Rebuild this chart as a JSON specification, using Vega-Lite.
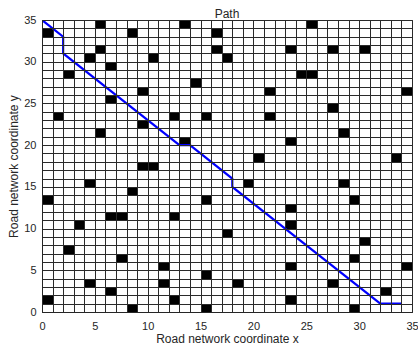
{
  "$schema": "https://vega.github.io/schema/vega-lite/v6.json",
  "width": 370,
  "height": 292,
  "autosize": "none",
  "padding": {"left": 42, "top": 20, "right": 6, "bottom": 40},
  "background": "white",
  "config": {
    "font": "Liberation Sans",
    "view": {"stroke": "#262626", "strokeWidth": 1},
    "axis": {
      "grid": true,
      "gridColor": "#2a2a2a",
      "gridWidth": 1,
      "gridOpacity": 1,
      "ticks": false,
      "domainColor": "#262626",
      "labelColor": "#262626",
      "labelFontSize": 11,
      "labelFlush": false,
      "labelOverlap": false,
      "titleColor": "#262626",
      "titleFontSize": 12,
      "titleFontWeight": "normal"
    }
  },
  "title": {
    "text": "Path",
    "fontSize": 12,
    "fontWeight": "normal",
    "color": "#262626",
    "offset": -7
  },
  "layer": [
    {
      "data": {
        "name": "obstacles",
        "values": [
          {"x": 0, "y": 33}, {"x": 5, "y": 34}, {"x": 13, "y": 34}, {"x": 8, "y": 33},
          {"x": 16, "y": 33}, {"x": 5, "y": 31}, {"x": 16, "y": 31}, {"x": 4, "y": 30},
          {"x": 10, "y": 30}, {"x": 6, "y": 29}, {"x": 2, "y": 28}, {"x": 14, "y": 27},
          {"x": 9, "y": 26}, {"x": 6, "y": 25}, {"x": 1, "y": 23}, {"x": 12, "y": 23},
          {"x": 15, "y": 23}, {"x": 9, "y": 22}, {"x": 5, "y": 21}, {"x": 13, "y": 20},
          {"x": 9, "y": 17}, {"x": 10, "y": 17},
          {"x": 25, "y": 34}, {"x": 23, "y": 31}, {"x": 27, "y": 31}, {"x": 30, "y": 31},
          {"x": 17, "y": 30}, {"x": 24, "y": 28}, {"x": 25, "y": 28}, {"x": 21, "y": 26},
          {"x": 34, "y": 26}, {"x": 27, "y": 24}, {"x": 21, "y": 23}, {"x": 28, "y": 21},
          {"x": 23, "y": 20}, {"x": 20, "y": 18}, {"x": 33, "y": 18},
          {"x": 4, "y": 15}, {"x": 8, "y": 14}, {"x": 0, "y": 13}, {"x": 15, "y": 13},
          {"x": 6, "y": 11}, {"x": 7, "y": 11}, {"x": 12, "y": 11}, {"x": 3, "y": 10},
          {"x": 2, "y": 7}, {"x": 7, "y": 6}, {"x": 11, "y": 5}, {"x": 15, "y": 4},
          {"x": 4, "y": 3}, {"x": 11, "y": 3}, {"x": 6, "y": 2}, {"x": 0, "y": 1},
          {"x": 12, "y": 1}, {"x": 8, "y": 0}, {"x": 15, "y": 0},
          {"x": 19, "y": 15}, {"x": 28, "y": 15}, {"x": 29, "y": 13}, {"x": 23, "y": 12},
          {"x": 23, "y": 10}, {"x": 17, "y": 9}, {"x": 30, "y": 8}, {"x": 29, "y": 6},
          {"x": 23, "y": 5}, {"x": 34, "y": 5}, {"x": 18, "y": 3}, {"x": 27, "y": 3},
          {"x": 32, "y": 2}, {"x": 23, "y": 1}, {"x": 29, "y": 0}
        ]
      },
      "mark": {"type": "rect", "color": "black"},
      "encoding": {
        "x": {
          "field": "x",
          "type": "quantitative",
          "bin": {"binned": true, "step": 1},
          "scale": {"domain": [0, 35], "nice": false, "zero": false},
          "axis": {
            "title": "Road network coordinate x",
            "values": [0,1,2,3,4,5,6,7,8,9,10,11,12,13,14,15,16,17,18,19,20,21,22,23,24,25,26,27,28,29,30,31,32,33,34,35],
            "labelExpr": "datum.value % 5 === 0 ? datum.label : ''",
            "labelPadding": 8,
            "titlePadding": 2
          }
        },
        "y": {
          "field": "y",
          "type": "quantitative",
          "bin": {"binned": true, "step": 1},
          "scale": {"domain": [0, 35], "nice": false, "zero": false},
          "axis": {
            "title": "Road network coordinate y",
            "values": [0,1,2,3,4,5,6,7,8,9,10,11,12,13,14,15,16,17,18,19,20,21,22,23,24,25,26,27,28,29,30,31,32,33,34,35],
            "labelExpr": "datum.value % 5 === 0 ? datum.label : ''",
            "labelPadding": 6,
            "titlePadding": 3
          }
        }
      }
    },
    {
      "data": {
        "name": "route",
        "values": [
          {"step": 0, "x": 0, "y": 35},
          {"step": 1, "x": 2, "y": 33},
          {"step": 2, "x": 2, "y": 31},
          {"step": 3, "x": 13, "y": 20},
          {"step": 4, "x": 14, "y": 20},
          {"step": 5, "x": 18, "y": 16},
          {"step": 6, "x": 18, "y": 15},
          {"step": 7, "x": 32, "y": 1},
          {"step": 8, "x": 34, "y": 1}
        ]
      },
      "mark": {"type": "line", "color": "#0000ff", "strokeWidth": 2.2, "clip": true},
      "encoding": {
        "x": {"field": "x", "type": "quantitative"},
        "y": {"field": "y", "type": "quantitative"},
        "order": {"field": "step"}
      }
    }
  ]
}
